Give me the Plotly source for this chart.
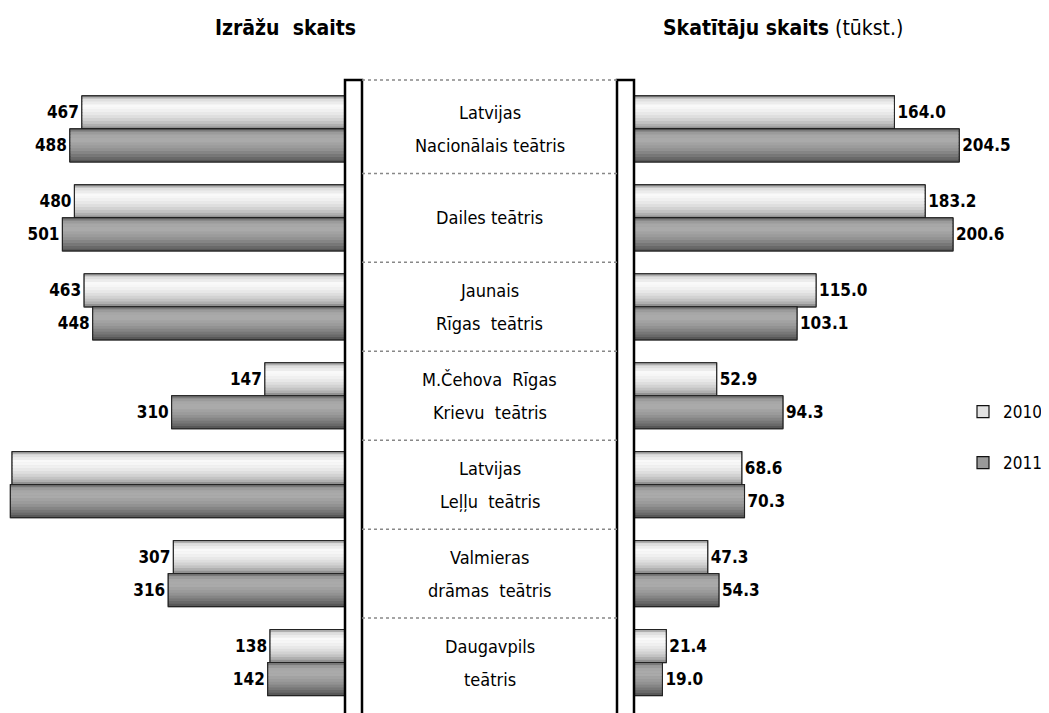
import plotly.graph_objects as go

theatres = ["Latvijas Nacionālais teātris", "Dailes teātris", "Jaunais Rīgas teātris",
            "M.Čehova Rīgas Krievu teātris", "Latvijas Leļļu teātris",
            "Valmieras drāmas teātris", "Daugavpils teātris"]
# how the names are broken in the middle column
name_lines = [["Latvijas", "Nacionālais teātris"], ["Dailes teātris"],
              ["Jaunais", "Rīgas&nbsp; teātris"], ["M.Čehova&nbsp; Rīgas", "Krievu&nbsp; teātris"],
              ["Latvijas", "Leļļu&nbsp; teātris"], ["Valmieras", "drāmas&nbsp; teātris"],
              ["Daugavpils", "teātris"]]
years = ["2010", "2011"]
shows_2010 = [467, 480, 463, 147, 589, 307, 138]
shows_2011 = [488, 501, 448, 310, 592, 316, 142]
visitors_2010 = [164.0, 183.2, 115.0, 52.9, 68.6, 47.3, 21.4]
visitors_2011 = [204.5, 200.6, 103.1, 94.3, 70.3, 54.3, 19.0]

F = "DejaVu Sans Condensed, Liberation Sans Narrow, sans-serif"
# the page puts the plot 8px in from the window corner
OFF = 8
W, H = 1049 - OFF, 713 - OFF

def px(x):
    return (x - OFF) / W

def py(y):
    return 1 - (y - OFF) / H

# gray levels down a bar (fraction from its top), to look like a cylinder
stops = {"2010": [(0, 150), (0.12, 222), (0.3, 250), (0.5, 238), (0.75, 205), (0.92, 165), (1, 125)],
         "2011": [(0, 105), (0.15, 165), (0.35, 172), (0.6, 150), (0.85, 110), (1, 80)]}
flat = {"2010": "#e2e2e2", "2011": "#9a9a9a"}
bw = 0.371  # one bar, in category units
N = 12

def gray(year, f):
    s = stops[year]
    for (f0, g0), (f1, g1) in zip(s, s[1:]):
        if f0 <= f <= f1:
            g = round(g0 + (g1 - g0) * (f - f0) / (f1 - f0))
            return f"rgb({g},{g},{g})"
    return flat[year]

fig = go.Figure()

def add_cylinders(vals, year, xaxis, fmt, legend):
    off = -bw if year == "2010" else 0.0
    common = dict(y=theatres, x=vals, orientation="h", xaxis=xaxis, yaxis="y",
                  hoverinfo="skip")
    fig.add_trace(go.Bar(**common, name=year, legendgroup=year, showlegend=legend,
                         offset=off, width=bw,
                         marker=dict(color=flat[year], line=dict(color="#111", width=1.2))))
    for k in range(N):
        fig.add_trace(go.Bar(**common, showlegend=False, offset=off + k * bw / N,
                             width=bw / N * 1.05,
                             marker=dict(color=gray(year, (k + 0.5) / N), line=dict(width=0))))
    # labels that would fall outside the cropped picture are not shown
    pos = ["none" if (xaxis == "x" and v > 560) else "outside" for v in vals]
    fig.add_trace(go.Bar(**common, showlegend=False, offset=off, width=bw,
                         marker=dict(color="rgba(0,0,0,0)", line=dict(color="#222", width=1)),
                         texttemplate=fmt, textposition=pos, cliponaxis=True,
                         textfont=dict(family=F, size=17, color="black", weight="bold")))

add_cylinders(shows_2010, "2010", "x", "%{x}", False)
add_cylinders(shows_2011, "2011", "x", "%{x}", False)
add_cylinders(visitors_2010, "2010", "x2", "%{x:.1f}", True)
add_cylinders(visitors_2011, "2011", "x2", "%{x:.1f}", True)

shapes = []
# middle column: two thin walls and the separators between theatres
top = py(80)
for x0, x1 in [(345, 362), (617, 634)]:
    shapes.append(dict(type="rect", xref="paper", yref="paper", x0=px(x0), x1=px(x1),
                       y0=-0.02, y1=top, fillcolor="white",
                       line=dict(color="black", width=2.5), layer="above"))
shapes.append(dict(type="line", xref="paper", yref="paper", x0=px(362), x1=px(617),
                   y0=top, y1=top, line=dict(color="#888", width=1.5, dash="dot")))
for i in range(len(theatres) - 1):
    shapes.append(dict(type="line", xref="paper", yref="y", x0=px(362), x1=px(617),
                       y0=i + 0.5, y1=i + 0.5, line=dict(color="#888", width=1.5, dash="dot")))

annotations = []
for name, lines in zip(theatres, name_lines):
    shifts = [0] if len(lines) == 1 else [16, -17]
    for txt, sh in zip(lines, shifts):
        annotations.append(dict(xref="paper", yref="y", x=px(489.5), y=name, yshift=sh,
                                text=txt, showarrow=False, xanchor="center", yanchor="middle",
                                font=dict(family=F, size=18, color="black")))
annotations.append(dict(xref="paper", yref="paper", x=px(285), y=py(28),
                        xanchor="center", yanchor="middle",
                        text="<b>Izrāžu&nbsp; skaits</b>", showarrow=False,
                        font=dict(family=F, size=21, color="black")))
annotations.append(dict(xref="paper", yref="paper", x=px(783), y=py(28),
                        xanchor="center", yanchor="middle",
                        text="<b>Skatītāju skaits</b> (tūkst.)", showarrow=False,
                        font=dict(family=F, size=21, color="black")))

fig.update_layout(
    width=W, height=H,
    margin=dict(l=0, r=0, t=0, b=0),
    paper_bgcolor="white", plot_bgcolor="white",
    barmode="overlay",
    xaxis=dict(domain=[0, px(349)], range=[(349 - OFF) / 0.572, 0], visible=False, anchor="y"),
    xaxis2=dict(domain=[px(632), 1], range=[0, (1049 - 632) / 1.6], visible=False, anchor="y"),
    yaxis=dict(domain=[py(707), py(84.5)], type="category",
               categoryorder="array", categoryarray=theatres,
               range=[6.5, -0.5], visible=False, anchor="x"),
    legend=dict(x=px(963), y=py(394), xanchor="left", yanchor="top",
                font=dict(family=F, size=17, color="black"),
                tracegroupgap=26, traceorder="grouped", bgcolor="rgba(0,0,0,0)"),
    shapes=shapes,
    annotations=annotations,
)

fig.write_html("out.html")
